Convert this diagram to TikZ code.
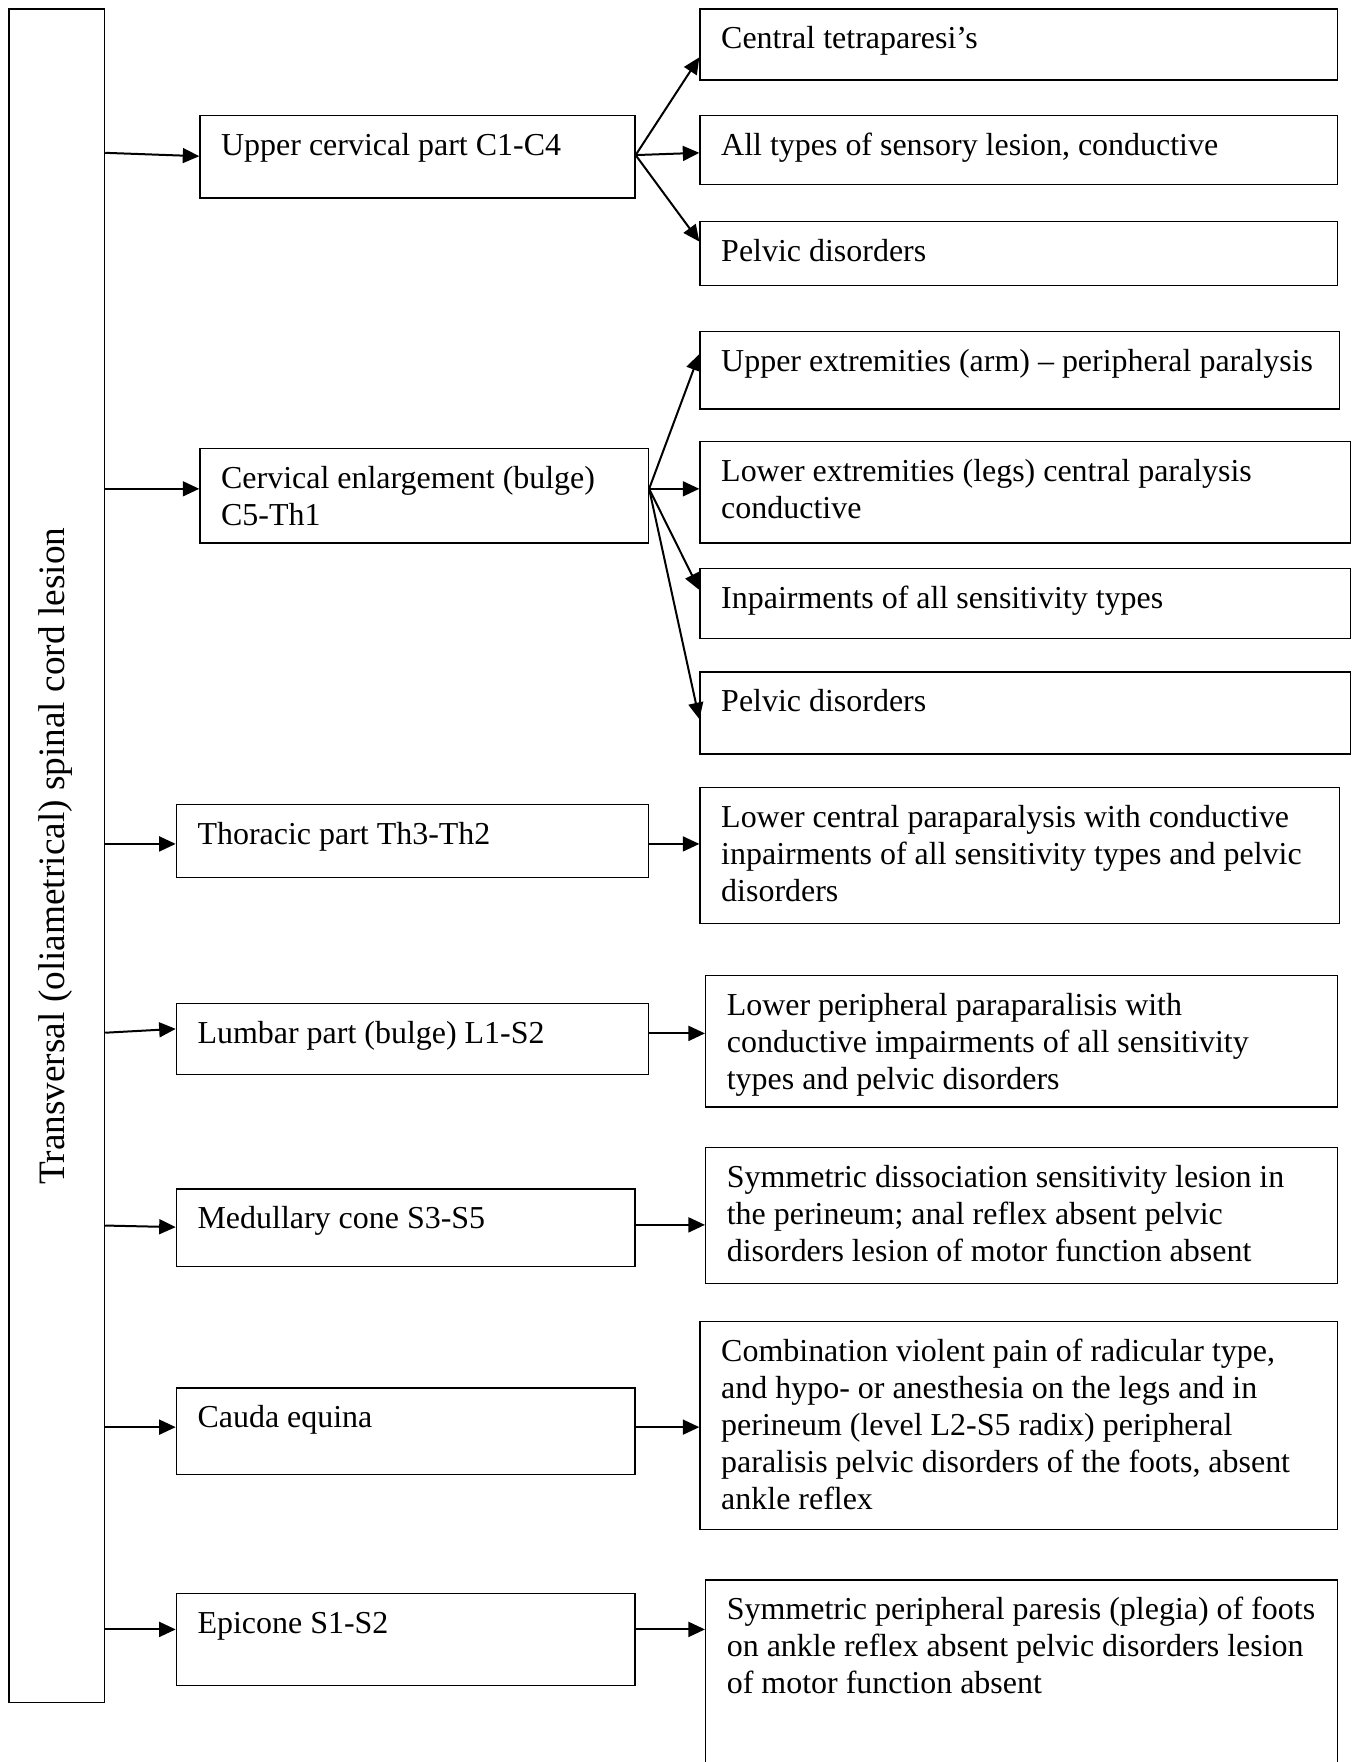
\documentclass[tikz,border=0pt]{standalone}
\usepackage{fontspec}
\setmainfont{Liberation Serif}
\usetikzlibrary{arrows.meta,fit}

% a framed box given by its corners, with its text set from the top left corner
% (the first line's baseline is the anchor)
\newcommand\tbox[6]{%
  \node[box, fit={(#2,#3) (#4,#5)}] (#1) {};
  \node[txt] (#1-t) at ([shift={(19,36)}]#1.north west)
    {\begin{tabular}[t]{@{}l@{}}#6\end{tabular}};}

\begin{document}
\begin{tikzpicture}[x=0.422pt,y=-0.422pt,
  box/.style={draw, line width=0.55pt, inner sep=0pt, rectangle},
  txt/.style={font=\fontsize{12pt}{13.9pt}\selectfont, inner sep=0pt, anchor=base west},
  arr/.style={-{Triangle[length=6.2pt,width=5.6pt]}, line width=0.75pt},
  side/.style={font=\fontsize{14pt}{16pt}\selectfont, inner sep=0pt, rotate=90, anchor=base}]

\useasboundingbox (0,0) rectangle (1207,1568);
\fill[white] (0,0) rectangle (1207,1568);
\clip (0,0) rectangle (1207,1568);

% the level of the lesion
\node[box, fit={(8,8) (93,1515)}] (main) {};
\node[side] (main-t) at (57.6,762) {Transversal (oliametrical) spinal cord lesion};

% segments of the cord
\tbox{ucp}{178}{103}{565}{176}{Upper cervical part C1-C4}
\tbox{cen}{178}{399}{577}{483}{Cervical enlargement (bulge)\\C5-Th1}
\tbox{tho}{157}{716}{577}{781}{Thoracic part Th3-Th2}
\tbox{lum}{157}{893}{577}{956}{Lumbar part (bulge) L1-S2}
\tbox{med}{157}{1058}{565}{1127}{Medullary cone S3-S5}
\tbox{cau}{157}{1235}{565}{1312}{Cauda equina}
\tbox{epi}{157}{1418}{565}{1500}{Epicone S1-S2}

% clinical signs
\tbox{r1}{623}{8}{1190}{71}{Central tetraparesi’s}
\tbox{r2}{623}{103}{1190}{164}{All types of sensory lesion, conductive}
\tbox{r3}{623}{197}{1190}{254}{Pelvic disorders}
\tbox{r4}{623}{295}{1192}{364}{Upper extremities (arm) – peripheral paralysis}
\tbox{r5}{623}{393}{1202}{483}{Lower extremities (legs) central paralysis\\conductive}
\tbox{r6}{623}{506}{1202}{568}{Inpairments of all sensitivity types}
\tbox{r7}{623}{598}{1202}{671}{Pelvic disorders}
\tbox{r8}{623}{701}{1192}{822}{Lower central paraparalysis with conductive\\inpairments of all sensitivity types and pelvic\\disorders}
\tbox{r9}{628}{868}{1190}{985}{Lower peripheral paraparalisis with\\conductive impairments of all sensitivity\\types and pelvic disorders}
\tbox{r10}{628}{1021}{1190}{1142}{Symmetric dissociation sensitivity lesion in\\the perineum; anal reflex absent pelvic\\disorders lesion of motor function absent}
\tbox{r11}{623}{1176}{1190}{1361}{Combination violent pain of radicular type,\\and hypo- or anesthesia on the legs and in\\perineum (level L2-S5 radix) peripheral\\paralisis pelvic disorders of the foots, absent\\ankle reflex}
\tbox{r12}{628}{1406}{1190}{1600}{Symmetric peripheral paresis (plegia) of foots\\on ankle reflex absent pelvic disorders lesion\\of motor function absent}

% from the lesion to each segment
\draw[arr] (main.east |- 0,136) -- (ucp.west |- 0,139);
\draw[arr] (main.east |- 0,435) -- (cen.west |- 0,435);
\draw[arr] (main.east |- 0,751) -- (tho.west |- 0,751);
\draw[arr] (main.east |- 0,919) -- (lum.west |- 0,915.6);
\draw[arr] (main.east |- 0,1090.6) -- (med.west |- 0,1092);
\draw[arr] (main.east |- 0,1270) -- (cau.west |- 0,1270);
\draw[arr] (main.east |- 0,1450) -- (epi.west |- 0,1450);

% upper cervical part
\draw[arr] (ucp.east |- 0,138) -- (r1.west |- 0,51);
\draw[arr] (ucp.east |- 0,138) -- (r2.west |- 0,136);
\draw[arr] (ucp.east |- 0,138) -- (r3.west |- 0,215);

% cervical enlargement
\draw[arr] (cen.east |- 0,435) -- (r4.west |- 0,315);
\draw[arr] (cen.east |- 0,435) -- (r5.west |- 0,435);
\draw[arr] (cen.east |- 0,435) -- (r6.west |- 0,525);
\draw[arr] (cen.east |- 0,435) -- (r7.west |- 0,640);

% lower segments
\draw[arr] (tho.east |- 0,751) -- (r8.west |- 0,751);
\draw[arr] (lum.east |- 0,919.6) -- (r9.west |- 0,919.6);
\draw[arr] (med.east |- 0,1090) -- (r10.west |- 0,1090);
\draw[arr] (cau.east |- 0,1270) -- (r11.west |- 0,1270);
\draw[arr] (epi.east |- 0,1450) -- (r12.west |- 0,1450);

\end{tikzpicture}
\end{document}
